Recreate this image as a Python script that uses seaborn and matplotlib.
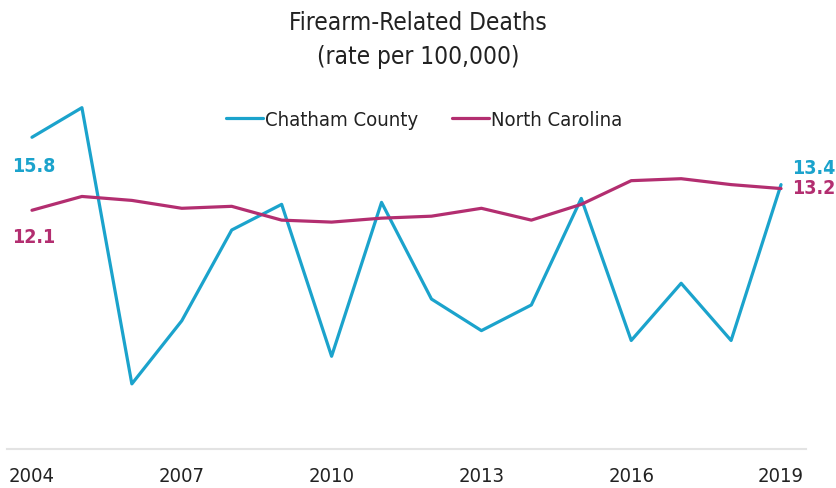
import matplotlib
matplotlib.use("Agg")
import matplotlib.pyplot as plt
import seaborn as sns
import pandas as pd

years = list(range(2004, 2020))
chatham = [15.8, 17.3, 3.3, 6.5, 11.1, 12.4, 4.7, 12.5, 7.6, 6.0, 7.3, 12.7, 5.5, 8.4, 5.5, 13.4]
nc = [12.1, 12.8, 12.6, 12.2, 12.3, 11.6, 11.5, 11.7, 11.8, 12.2, 11.6, 12.4, 13.6, 13.7, 13.4, 13.2]
series_names = ["Chatham County", "North Carolina"]
xtick_years = [2004, 2007, 2010, 2013, 2016, 2019]
title = "Firearm-Related Deaths\n(rate per 100,000)"

blue = "#1BA3CC"
magenta = "#B32E70"

sns.set_theme(style="white")
plt.rcParams["font.family"] = ["DejaVu Sans"]

df = pd.DataFrame({
    "year": years * 2,
    "rate": chatham + nc,
    "series": [series_names[0]] * len(years) + [series_names[1]] * len(years),
})

W, H = 837, 489
fig = plt.figure(figsize=(W / 100, H / 100), dpi=100)
left, right, bottom_px, top_px = 7, 806, 450, 90
ax = fig.add_axes([left / W, (H - bottom_px) / H, (right - left) / W, (bottom_px - top_px) / H])

sns.lineplot(data=df, x="year", y="rate", hue="series", palette=[blue, magenta],
             linewidth=2.3, ax=ax, legend=True)

ax.set_xlim(2003.5, 2019.5)
ax.set_ylim(0, (bottom_px - top_px) / 19.73)
ax.set_xticks(xtick_years)
ax.set_xticklabels([str(y) for y in xtick_years])
ax.set_yticks([])
ax.set_xlabel("")
ax.set_ylabel("")
for s in ["top", "right", "left"]:
    ax.spines[s].set_visible(False)
ax.spines["bottom"].set_color("#e3e3e3")
ax.spines["bottom"].set_linewidth(1.5)
ax.tick_params(axis="x", length=0, pad=12, labelsize=14.5, colors="#222222")
for t in ax.get_xticklabels():
    t.set_fontstretch("condensed")

handles, labels = ax.get_legend_handles_labels()
leg = ax.legend(handles, labels, loc="center", bbox_to_anchor=(424 / W, (H - 121) / H),
                bbox_transform=fig.transFigure, ncol=2, frameon=False, fontsize=14.6,
                handlelength=1.8, handletextpad=0.1, columnspacing=1.7)
for t in leg.get_texts():
    t.set_fontstretch("condensed")
    t.set_color("#222222")

fig.text(418 / W, 1 - 40 / H, title, ha="center", va="center", fontsize=17.5,
         linespacing=1.5, color="#222222", fontstretch="condensed")

# end labels
ax.annotate(f"{chatham[0]:.1f}", xy=(years[0], chatham[0]), xytext=(12 / W, 1 - 167 / H),
            textcoords="figure fraction", ha="left", va="center", color=blue,
            fontsize=14, fontweight="bold", fontstretch="condensed")
ax.annotate(f"{nc[0]:.1f}", xy=(years[0], nc[0]), xytext=(12 / W, 1 - 238 / H),
            textcoords="figure fraction", ha="left", va="center", color=magenta,
            fontsize=14, fontweight="bold", fontstretch="condensed")
ax.annotate(f"{chatham[-1]:.1f}", xy=(years[-1], chatham[-1]), xytext=(792 / W, 1 - 168 / H),
            textcoords="figure fraction", ha="left", va="center", color=blue,
            fontsize=14, fontweight="bold", fontstretch="condensed")
ax.annotate(f"{nc[-1]:.1f}", xy=(years[-1], nc[-1]), xytext=(792 / W, 1 - 189 / H),
            textcoords="figure fraction", ha="left", va="center", color=magenta,
            fontsize=14, fontweight="bold", fontstretch="condensed")

fig.savefig("out.png", dpi=100)
